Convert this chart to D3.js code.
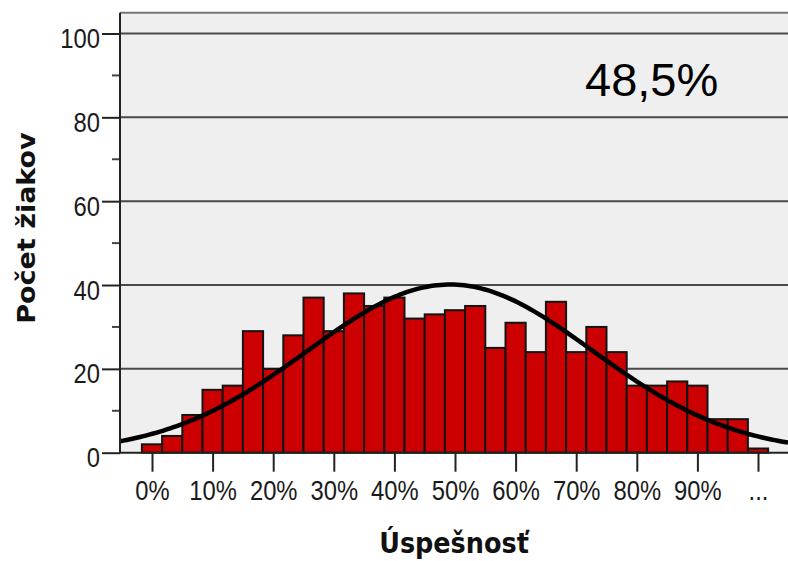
<!DOCTYPE html>
<html>
<head>
<meta charset="utf-8">
<script src="https://cdn.jsdelivr.net/npm/d3@7"></script>
<style>
  body { margin: 0; background: #fff; }
  svg { display: block; }
  .tick text { font-family: "Liberation Sans", Arial, sans-serif; font-size: 28px; fill: #1a1a1a; }
  .title { font-family: "DejaVu Sans", Verdana, sans-serif; font-weight: bold; fill: #111; }
</style>
</head>
<body>
<script>
// histogram counts, one per bin (bins 3.33 % wide, centred on 0 %, 3.33 %, ... 100 %)
const counts = [2, 4, 9, 15, 16, 29, 20, 28, 37, 29, 38, 35, 37, 32, 33, 34,
                35, 25, 31, 24, 36, 24, 30, 24, 16, 16, 17, 16, 8, 8, 1];
const binWidth = 10 / 3;
const xTickValues = [0, 10, 20, 30, 40, 50, 60, 70, 80, 90, 100];
const xTickLabels = ["0%", "10%", "20%", "30%", "40%", "50%", "60%", "70%", "80%", "90%", "..."];
const yTickValues = [0, 20, 40, 60, 80, 100];
const yMinorTicks = [10, 30, 50, 70, 90];
// fitted normal curve
const curveMean = 49.2;
const curveSd = 23.5;
const meanLabel = "48,5%";

const W = 788, H = 561;
const plot = { left: 120, right: 788, top: 12.7, bottom: 452.7 };

const svg = d3.select("body").append("svg").attr("width", W).attr("height", H);

const x = d3.scaleLinear().domain([0, 100]).range([152, 758]);
const y = d3.scaleLinear().domain([0, 100]).range([plot.bottom, 33.5]);

// plot background
svg.append("rect")
    .attr("x", plot.left).attr("y", plot.top)
    .attr("width", plot.right - plot.left).attr("height", plot.bottom - plot.top)
    .attr("fill", "#efefef");
svg.append("line")
    .attr("x1", plot.left).attr("x2", plot.right)
    .attr("y1", plot.top).attr("y2", plot.top)
    .attr("stroke", "#777").attr("stroke-width", 2);

// gridlines
svg.append("g").selectAll("line").data(yTickValues.filter(d => d > 0)).join("line")
    .attr("x1", plot.left).attr("x2", plot.right)
    .attr("y1", d => y(d)).attr("y2", d => y(d))
    .attr("stroke", "#4a4a4a").attr("stroke-width", 2);

// bars
const barW = x(binWidth) - x(0);
svg.append("g").selectAll("rect").data(counts).join("rect")
    .attr("x", (d, i) => x(i * binWidth) - barW / 2)
    .attr("width", barW)
    .attr("y", d => y(d))
    .attr("height", d => y(0) - y(d))
    .attr("fill", "#cc0000")
    .attr("stroke", "#141414")
    .attr("stroke-width", 2);

// normal curve
const N = d3.sum(counts);
const x0 = x.invert(plot.left), x1 = x.invert(plot.right);
const curvePts = d3.range(0, 201).map(k => {
    const v = x0 + (x1 - x0) * k / 200;
    const z = (v - curveMean) / curveSd;
    return [v, N * binWidth / (curveSd * Math.sqrt(2 * Math.PI)) * Math.exp(-0.5 * z * z)];
});
svg.append("clipPath").attr("id", "clip").append("rect")
    .attr("x", plot.left).attr("y", plot.top)
    .attr("width", plot.right - plot.left).attr("height", plot.bottom - plot.top);
svg.append("path")
    .attr("clip-path", "url(#clip)")
    .attr("d", d3.line().x(d => x(d[0])).y(d => y(d[1]))(curvePts))
    .attr("fill", "none").attr("stroke", "#000").attr("stroke-width", 4.5);

// axes
function squeeze(sel, k) {
    sel.selectAll(".tick text").each(function() {
        const t = d3.select(this);
        const tx = +t.attr("x") || 0;
        t.attr("x", 0).attr("transform", `translate(${tx},0) scale(${k},1)`);
    });
}

const gy = svg.append("g").attr("transform", `translate(${plot.left},0)`)
    .call(d3.axisLeft(y).tickValues(yTickValues).tickSize(18).tickPadding(2));
gy.select(".domain").remove();
gy.selectAll(".tick line").attr("stroke", "#222").attr("stroke-width", 2);
gy.selectAll(".tick text").attr("dy", "0.5em");
squeeze(gy, 0.85);
gy.selectAll("line.minor").data(yMinorTicks).join("line").attr("class", "minor")
    .attr("x1", -8).attr("x2", 0)
    .attr("y1", d => y(d)).attr("y2", d => y(d))
    .attr("stroke", "#444").attr("stroke-width", 2);
gy.append("line")
    .attr("x1", 0).attr("x2", 0).attr("y1", plot.top).attr("y2", plot.bottom)
    .attr("stroke", "#222").attr("stroke-width", 2);

const gx = svg.append("g").attr("transform", `translate(0,${plot.bottom})`)
    .call(d3.axisBottom(x).tickValues(xTickValues)
        .tickFormat((d, i) => xTickLabels[i]).tickSize(19).tickPadding(8));
gx.select(".domain").remove();
gx.selectAll(".tick line").attr("stroke", "#222").attr("stroke-width", 2);
squeeze(gx, 0.85);
gx.append("line")
    .attr("x1", plot.left).attr("x2", plot.right).attr("y1", 0).attr("y2", 0)
    .attr("stroke", "#222").attr("stroke-width", 2);

// titles
svg.append("text").attr("class", "title")
    .attr("transform", "translate(454,553) scale(0.88,1)")
    .attr("text-anchor", "middle").attr("font-size", 29)
    .text("Úspešnosť");
svg.append("text").attr("class", "title")
    .attr("transform", "translate(35,228) rotate(-90) scale(1,0.9)")
    .attr("text-anchor", "middle").attr("font-size", 27)
    .text("Počet žiakov");

svg.append("text")
    .attr("x", 585).attr("y", 96)
    .attr("font-family", "'Liberation Sans', Arial, sans-serif")
    .attr("font-size", 47).attr("fill", "#000")
    .text(meanLabel);
</script>
</body>
</html>
